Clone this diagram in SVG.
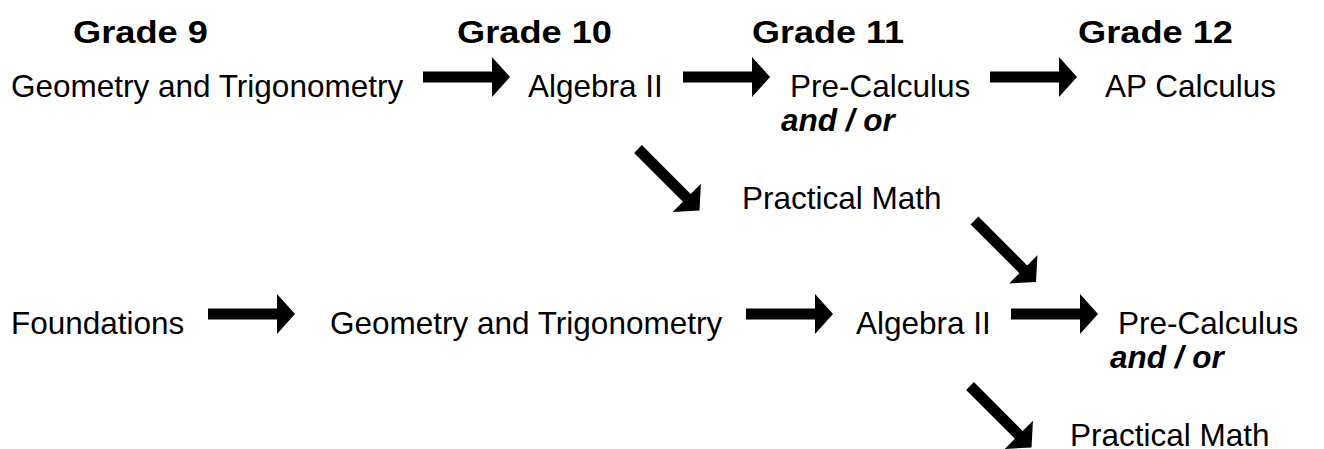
<svg xmlns="http://www.w3.org/2000/svg" width="1324" height="449" viewBox="0 0 1324 449">
<style>
text{font-family:"Liberation Sans",Arial,sans-serif;fill:#000}
.h{font-size:31px;font-weight:bold}
.t{font-size:31.5px}
.o{font-size:31.5px;font-weight:bold;font-style:italic}
.arr{fill:#000}
</style>
<defs>
<path id="arrow" d="M0,-5.5 H69 V-20 L87,0 L69,20 V5.5 H0 Z"/>
</defs>
<rect width="1324" height="449" fill="#fff"/>
<g id="headers">
<text class="h" x="73" y="43" textLength="135" lengthAdjust="spacingAndGlyphs">Grade 9</text>
<text class="h" x="457" y="43" textLength="155" lengthAdjust="spacingAndGlyphs">Grade 10</text>
<text class="h" x="752" y="43" textLength="152" lengthAdjust="spacingAndGlyphs">Grade 11</text>
<text class="h" x="1078" y="43" textLength="155" lengthAdjust="spacingAndGlyphs">Grade 12</text>
</g>
<g id="n-geo1"><text class="t" x="11" y="97">Geometry and Trigonometry</text></g>
<g id="n-alg1"><text class="t" x="528" y="97">Algebra II</text></g>
<g id="n-pre1"><text class="t" x="790" y="97">Pre-Calculus</text><text class="o" x="781" y="131">and / or</text></g>
<g id="n-ap"><text class="t" x="1105" y="97">AP Calculus</text></g>
<g id="n-prac1"><text class="t" x="742" y="209">Practical Math</text></g>
<g id="n-found"><text class="t" x="11" y="334">Foundations</text></g>
<g id="n-geo2"><text class="t" x="330" y="334">Geometry and Trigonometry</text></g>
<g id="n-alg2"><text class="t" x="856" y="334">Algebra II</text></g>
<g id="n-pre2"><text class="t" x="1118" y="334">Pre-Calculus</text><text class="o" x="1110" y="368">and / or</text></g>
<g id="n-prac2"><text class="t" x="1070" y="446">Practical Math</text></g>
<g id="connectors" class="arr">
<use href="#arrow" transform="translate(423,77)"/>
<use href="#arrow" transform="translate(683,77)"/>
<use href="#arrow" transform="translate(990,77)"/>
<use href="#arrow" transform="translate(208,314)"/>
<use href="#arrow" transform="translate(746,314)"/>
<use href="#arrow" transform="translate(1011,314)"/>
<use href="#arrow" transform="translate(638,149) rotate(45)"/>
<use href="#arrow" transform="translate(974.5,220.5) rotate(45)"/>
<use href="#arrow" transform="translate(970,386) rotate(45)"/>
</g>
</svg>
